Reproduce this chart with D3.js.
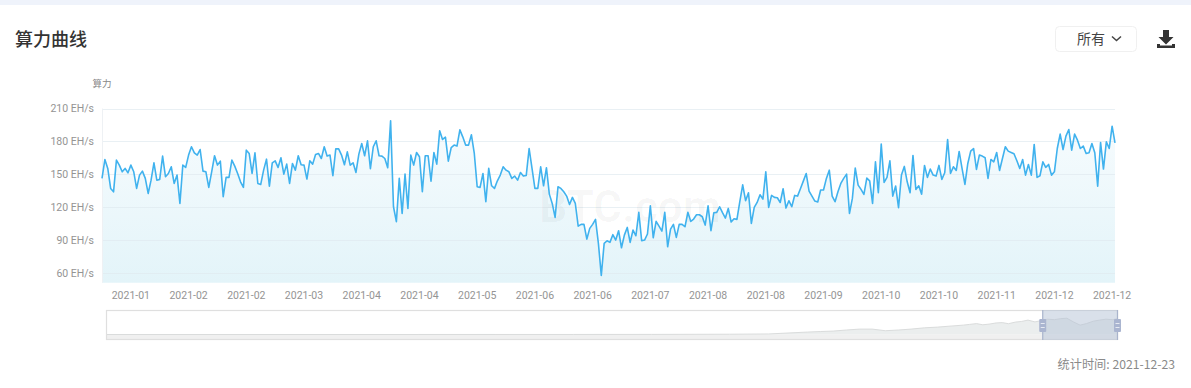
<!DOCTYPE html>
<html>
<head>
<meta charset="utf-8">
<script src="https://cdn.jsdelivr.net/npm/d3@7/dist/d3.min.js"></script>
<style>
    body { margin: 0; background: #fff; }
    text { font-family: Roboto, "Noto Sans CJK SC", sans-serif; }
    .cjk { font-family: "Noto Sans CJK SC", sans-serif; }
</style>
</head>
<body>
<svg id="chart" width="1191" height="388"></svg>
<script>
    // daily hashrate in EH/s
    const hashrateValues = [
        146.4, 163.6, 155.5, 137.3, 134.2, 163, 158.5, 152.4, 155.5, 151.5, 158.5, 152.4, 137.3, 149.4, 153,
        146.4, 132.7, 144.8, 160.6, 144.8, 145.5, 166.7, 147.9, 150.9, 157, 141.8, 149.4, 123.6, 158.5, 156.4,
        167.6, 175.2, 169.7, 167.6, 172.7, 153, 152.4, 138.2, 152.4, 167, 158.5, 162.1, 129.7, 147.3, 147.3,
        163, 157.6, 150.9, 143.3, 138.2, 172.1, 169.1, 150.9, 169.7, 141.8, 140.9, 153.9, 163.9, 139.4, 160.6,
        162.4, 156.4, 165.2, 150.3, 159.4, 141.8, 160, 153.9, 167, 158.8, 158.5, 145.8, 162.4, 159.4, 168.2,
        169.1, 164.5, 175.2, 166.7, 167.6, 148.8, 173.3, 173.3, 167.6, 158.8, 170.6, 158.5, 160.6, 151.8, 168.5,
        178.2, 167, 180.6, 155.2, 175.2, 180.6, 167, 166.7, 164.5, 156.1, 198.8, 120.6, 107, 146.4,
        114.6, 150.3, 119.1, 167.6, 158.5, 170, 166.1, 134.2, 167, 167, 143.9, 170, 159.4, 189.7, 181.8,
        183.9, 162.1, 174.5, 176.7, 175.8, 190.6, 184.2, 176.7, 176.7, 186.1, 169.1, 138.8, 138.2, 150.9, 125.2,
        155.5, 139.7, 137.3, 144.2, 149.4, 157, 153.9, 152.4, 146.4, 148.5, 144.8, 151.8, 148.5, 149.1, 173.6,
        155.5, 137.3, 137.3, 157, 139.7, 156.1, 132.1, 123.6, 110.9, 138.8, 137.3, 134.2, 130.3, 122.7, 129.1,
        123.6, 103, 104.6, 104.6, 91.2, 100.9, 104.6, 109.1, 87.3, 58.2, 87.3, 89.7, 88.2, 95.2, 90.3,
        98.8, 83.3, 94.8, 101.8, 88.2, 99.4, 94.2, 115.5, 89.7, 90.3, 95.8, 121.5, 92.4, 107.3, 103,
        98.5, 115.5, 84.2, 100.3, 104.6, 92.7, 104.6, 104.6, 102.4, 115.5, 107.3, 109.4, 113.3, 113.3, 111.5,
        103.9, 121.5, 98.8, 115.2, 115.5, 120.6, 115.2, 110.3, 119.1, 106.7, 109.7, 109.1, 125.2, 140.6, 126.1,
        133.3, 105.5, 120, 124.5, 131.5, 127.6, 152.4, 120, 130.9, 129.1, 128.8, 124.5, 137, 119.4, 126.1,
        120.6, 130.9, 130.3, 137,
        143.9, 150.9, 134.9, 130.3, 125.8, 124.9, 135.8, 135.8, 146.4, 153.9, 130.3, 125.2, 134.2, 141.8, 146.4,
        150.3, 114.6, 128.2, 155.8, 140.3, 136.4, 131.8, 146.7, 144.2, 123.6, 161.5, 133.3, 177.6, 142.7, 147.3,
        162.4, 130.3, 139.4, 119.7, 149.4, 157.3, 143.3, 133.3, 167.3, 136.4, 139.7, 132.1, 158.2, 147.3, 154.9,
        149.4, 148.5, 158.2, 145.5, 151.5, 181.8, 150.9, 157, 153.6, 170.9, 155.5, 140.9, 160, 171.2, 173.6,
        154.6, 167.6, 166.7, 165.2, 146.4, 163.6, 161.5, 170, 153.6, 164.5, 175.2, 171.2, 170, 168.8, 162.4,
        155.5, 163.6, 149.4, 159.1, 149.4, 177.3, 147.3, 148.8, 161.5, 156.4, 159.1, 149.4, 152.4, 173.6, 186.7,
        172.7, 184.9, 190.9, 172.1, 186.7, 181.2, 173.6, 175.8, 169.1, 169.7, 178.2, 169.7, 139.4, 179.1, 154.9,
        179.7, 173.6, 193.9, 178.8
    ];
    const yTickValues = [60, 90, 120, 150, 180, 210];

    // first day of the series, one value per day after that
    const startDate = new Date(2021, 0, 5);
    const tickEvery = 20;
    const tickOffset = 10;

    // whole history shown in the slider: year, EH/s
    const overviewYears = [2009, 2013, 2014, 2015, 2016, 2017, 2017.5, 2018, 2018.17, 2018.33, 2018.5, 2018.67, 2018.83,
        2019, 2019.17, 2019.33, 2019.5, 2019.67, 2019.83, 2020, 2020.08, 2020.17, 2020.25, 2020.33, 2020.42, 2020.5, 2020.58,
        2020.67, 2020.75, 2020.83, 2020.92, 2021, 2021.08, 2021.17, 2021.25, 2021.33, 2021.42, 2021.5, 2021.58,
        2021.67, 2021.75, 2021.83, 2021.92, 2021.98];
    const overviewValues = [0, 0.1, 0.2, 0.4, 1, 3, 6, 27, 33, 38, 50, 60, 60,
        42, 50, 60, 74, 82, 93, 104, 112, 121, 108, 115, 128, 132, 120,
        138, 145, 160, 140, 154, 170, 165, 176, 181, 137, 104, 121,
        148, 160, 170, 165, 176];

    const svg = d3.select("#chart");

    let plot = { left: 102, right: 1115, top: 108.5, bottom: 282.7 };

    let dates = hashrateValues.map(function (d, i) {
        return d3.timeDay.offset(startDate, i);
    });

    let xScale = d3.scaleTime()
        .domain([dates[0], dates[dates.length - 1]])
        .range([plot.left, plot.right]);

    // 60 sits at y=273.3 and 210 at y=108.5
    let yScale = d3.scaleLinear()
        .domain([51.5, 210])
        .range([plot.bottom, plot.top]);

    // page header band
    svg.append("rect").attr("width", 1191).attr("height", 5).attr("fill", "#eff3fb");

    svg.append("text").attr("class", "cjk")
        .attr("x", 15).attr("y", 45.5)
        .attr("font-size", 18).attr("font-weight", 500).attr("fill", "#333")
        .text("算力曲线");

    // range drop-down
    svg.append("rect")
        .attr("x", 1055.5).attr("y", 26.5).attr("width", 81).attr("height", 25).attr("rx", 4)
        .attr("fill", "#fff").attr("stroke", "#f0f0f0");
    svg.append("text").attr("class", "cjk")
        .attr("x", 1077).attr("y", 44)
        .attr("font-size", 14).attr("fill", "#444")
        .text("所有");
    svg.append("path")
        .attr("d", "M1112 36.5l4.5 4 4.5-4")
        .attr("fill", "none").attr("stroke", "#444").attr("stroke-width", 1.5);

    // download icon
    svg.append("path")
        .attr("d", "M1163 30h6v7h4.5l-7.5 7.5-7.5-7.5h4.5z M1157 44h3v1.5h12v-1.5h3v4h-18z")
        .attr("fill", "#333");

    svg.append("text").attr("class", "cjk")
        .attr("x", 102).attr("y", 87)
        .attr("text-anchor", "middle").attr("font-size", 9.5).attr("fill", "#888")
        .text("算力");

    // area gradient
    let gradient = svg.append("defs").append("linearGradient")
        .attr("id", "areaFill")
        .attr("gradientUnits", "userSpaceOnUse")
        .attr("x1", 0).attr("x2", 0)
        .attr("y1", plot.top).attr("y2", plot.bottom);
    gradient.append("stop").attr("offset", 0).attr("stop-color", "#f8fcfe");
    gradient.append("stop").attr("offset", 1).attr("stop-color", "#e3f4f9");

    let area = d3.area()
        .x(function (d, i) { return xScale(dates[i]); })
        .y0(plot.bottom)
        .y1(function (d) { return yScale(d); });

    svg.append("path")
        .datum(hashrateValues)
        .attr("d", area)
        .attr("fill", "url(#areaFill)");

    // grid and left edge
    svg.append("g").selectAll("line").data(yTickValues).enter()
        .append("line")
        .attr("x1", plot.left).attr("x2", plot.right)
        .attr("y1", function (d) { return Math.round(yScale(d)) + 0.5; })
        .attr("y2", function (d) { return Math.round(yScale(d)) + 0.5; })
        .attr("stroke", "#dfe9ef").attr("stroke-opacity", 0.7);
    svg.append("line")
        .attr("x1", plot.left + 0.5).attr("x2", plot.left + 0.5)
        .attr("y1", plot.top).attr("y2", plot.bottom)
        .attr("stroke", "#eef1f4");

    // faint watermark
    svg.append("text")
        .attr("x", 630).attr("y", 222)
        .attr("text-anchor", "middle")
        .attr("font-size", 44).attr("font-weight", 700).attr("fill", "#000").attr("fill-opacity", 0.03)
        .text("BTC.com");

    let line = d3.line()
        .x(function (d, i) { return xScale(dates[i]); })
        .y(function (d) { return yScale(d); });

    svg.append("path")
        .datum(hashrateValues)
        .attr("d", line)
        .attr("fill", "none")
        .attr("stroke", "#40b2ee")
        .attr("stroke-width", 1.6)
        .attr("stroke-linejoin", "round");

    // axes
    let yAxis = d3.axisLeft(yScale)
        .tickValues(yTickValues)
        .tickSize(0)
        .tickPadding(8)
        .tickFormat(function (d) { return d + " EH/s"; });

    let xTicks = dates.filter(function (d, i) {
        return i >= tickOffset && (i - tickOffset) % tickEvery === 0;
    });

    let xAxis = d3.axisBottom(xScale)
        .tickValues(xTicks)
        .tickSize(0)
        .tickPadding(9)
        .tickFormat(d3.timeFormat("%Y-%m"));

    svg.append("g")
        .attr("transform", "translate(" + plot.left + ",0)")
        .call(yAxis)
        .call(styleAxis);

    svg.append("g")
        .attr("transform", "translate(-0.5," + plot.bottom + ")")
        .call(xAxis)
        .call(styleAxis);

    function styleAxis(g) {
        g.select(".domain").remove();
        g.selectAll("text")
            .attr("fill", "#949494")
            .attr("font-size", 10.5)
            .style("font-family", "Roboto, sans-serif");
    }

    // slider
    let slider = { left: 106.5, right: 1117.5, top: 310.5, bottom: 339.5, base: 334.5 };

    let overviewX = d3.scaleLinear()
        .domain([overviewYears[0], overviewYears[overviewYears.length - 1]])
        .range([slider.left, slider.right]);

    let overviewY = d3.scaleLinear()
        .domain([0, 180])
        .range([slider.base, 318.3]);

    let overviewArea = d3.area()
        .x(function (d, i) { return overviewX(overviewYears[i]); })
        .y0(slider.base)
        .y1(function (d) { return overviewY(d); });

    svg.append("rect")
        .attr("x", slider.left).attr("y", slider.base)
        .attr("width", slider.right - slider.left).attr("height", slider.bottom - slider.base)
        .attr("fill", "#f0f0f0");

    svg.append("path")
        .datum(overviewValues)
        .attr("d", overviewArea)
        .attr("fill", "#ebeeee");

    svg.append("path")
        .datum(overviewValues)
        .attr("d", d3.line()
            .x(function (d, i) { return overviewX(overviewYears[i]); })
            .y(function (d) { return overviewY(d); }))
        .attr("fill", "none")
        .attr("stroke", "#dadcdc");

    svg.append("rect")
        .attr("x", slider.left).attr("y", slider.top)
        .attr("width", slider.right - slider.left).attr("height", slider.bottom - slider.top)
        .attr("fill", "none").attr("stroke", "#dfdfdf").attr("stroke-width", 1.2);

    // selected window over the last year
    let windowLeft = overviewX(2021.02);
    let windowRight = slider.right;

    svg.append("rect")
        .attr("x", windowLeft).attr("y", slider.top - 0.5)
        .attr("width", windowRight - windowLeft).attr("height", slider.bottom - slider.top + 1)
        .attr("fill", "#b3c1d6").attr("fill-opacity", 0.5);

    [windowLeft, windowRight].forEach(function (x) {
        svg.append("line")
            .attr("x1", x).attr("x2", x)
            .attr("y1", slider.top - 0.5).attr("y2", slider.bottom + 0.5)
            .attr("stroke", "#a9b4cc").attr("stroke-width", 1.2);
        svg.append("rect")
            .attr("x", x - 3.5).attr("y", 319)
            .attr("width", 7).attr("height", 13).attr("rx", 1)
            .attr("fill", "#aab5d0");
        svg.append("line")
            .attr("x1", x - 2).attr("x2", x + 2)
            .attr("y1", 323.5).attr("y2", 323.5)
            .attr("stroke", "#e6eaf2");
        svg.append("line")
            .attr("x1", x - 2).attr("x2", x + 2)
            .attr("y1", 327.5).attr("y2", 327.5)
            .attr("stroke", "#e6eaf2");
    });

    svg.append("text").attr("class", "cjk")
        .attr("x", 1175).attr("y", 369)
        .attr("text-anchor", "end").attr("font-size", 12.2).attr("fill", "#8a8a8a")
        .text("统计时间: 2021-12-23");
</script>
</body>
</html>
